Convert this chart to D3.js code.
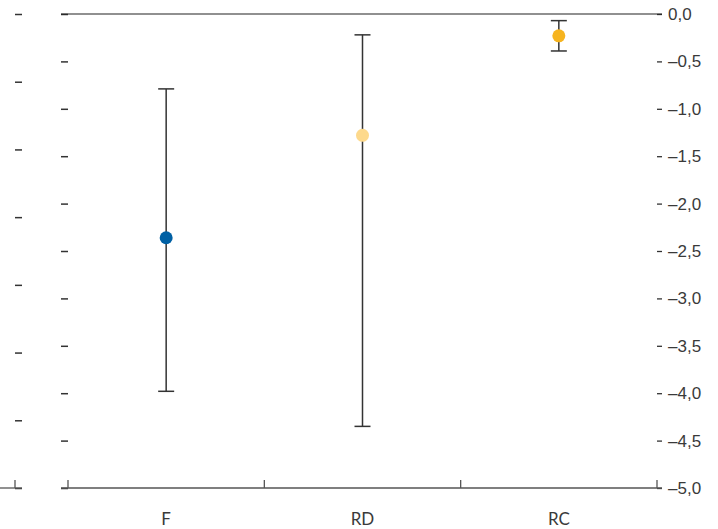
<!DOCTYPE html>
<html>
<head>
<meta charset="utf-8">
<script src="https://cdn.jsdelivr.net/npm/d3@7"></script>
<style>
  body { margin: 0; background: #fff; }
  svg { display: block; font-family: Lato, "Open Sans", sans-serif; }
</style>
</head>
<body>
<div id="figure"></div>
<script>
// values
var categories = ["F", "RD", "RC"];
var means = [-2.36, -1.28, -0.23];
var upper = [-0.79, -0.22, -0.07];
var lower = [-3.98, -4.35, -0.39];
var colors = ["#0060a4", "#fdd98c", "#f6b41f"];
var yTicks = [0, -0.5, -1, -1.5, -2, -2.5, -3, -3.5, -4, -4.5, -5];

var width = 718, height = 529;
var plotTop = 14, plotBottom = 488;

var svg = d3.select("#figure").append("svg")
    .attr("width", width)
    .attr("height", height);

var y = d3.scaleLinear().domain([-5, 0]).range([plotBottom, plotTop]);
var x = d3.scaleBand().domain(categories).range([68, 657]);

var fmt = function(d) {
  return (d < 0 ? "\u2013" : "") + d3.format(".1f")(Math.abs(d)).replace(".", ",");
};

// leftover axis of the neighbouring panel
var yPrev = d3.scaleLinear().domain([0, 7]).range([plotTop, plotBottom]);
svg.append("g")
    .attr("transform", "translate(15,0)")
    .call(d3.axisRight(yPrev).ticks(7).tickSize(7).tickFormat(""))
    .call(function(g) { g.select(".domain").remove(); })
    .selectAll("line").attr("stroke", "#333").attr("stroke-width", 1.5);
svg.append("line")
    .attr("x1", 0).attr("x2", 22).attr("y1", plotBottom).attr("y2", plotBottom)
    .attr("stroke", "#555").attr("stroke-width", 1.3);
svg.append("line")
    .attr("x1", 15).attr("x2", 15).attr("y1", plotBottom - 8).attr("y2", plotBottom)
    .attr("stroke", "#555").attr("stroke-width", 1.3);

// inner left ticks
svg.append("g")
    .attr("transform", "translate(68,0)")
    .call(d3.axisLeft(y).tickValues(yTicks).tickSize(7).tickFormat(""))
    .call(function(g) { g.select(".domain").remove(); })
    .selectAll("line").attr("stroke", "#333").attr("stroke-width", 1.5);

// right axis
var yAxis = svg.append("g")
    .attr("transform", "translate(657,0)")
    .call(d3.axisRight(y).tickValues(yTicks).tickSize(5).tickPadding(6).tickFormat(fmt));
yAxis.select(".domain").remove();
yAxis.selectAll("line").attr("stroke", "#333").attr("stroke-width", 1.3);
yAxis.selectAll("text")
    .attr("fill", "#3a3a3a")
    .style("font-size", "17px");

// zero line and base line
svg.append("line")
    .attr("x1", 61).attr("x2", 662).attr("y1", y(0)).attr("y2", y(0))
    .attr("stroke", "#222").attr("stroke-width", 1.2);
svg.append("line")
    .attr("x1", 61).attr("x2", 662).attr("y1", y(-5)).attr("y2", y(-5))
    .attr("stroke", "#555").attr("stroke-width", 1.3);

// x ticks at band edges
var edges = categories.map(function(c) { return x(c); }).concat([x.range()[1]]);
svg.append("g").selectAll("line")
  .data(edges)
  .join("line")
    .attr("x1", function(d) { return d; })
    .attr("x2", function(d) { return d; })
    .attr("y1", plotBottom - 8)
    .attr("y2", plotBottom)
    .attr("stroke", "#555")
    .attr("stroke-width", 1.3);

svg.append("g").selectAll("text")
  .data(categories)
  .join("text")
    .attr("x", function(d) { return x(d) + x.bandwidth() / 2; })
    .attr("y", 525)
    .attr("text-anchor", "middle")
    .attr("fill", "#3a3a3a")
    .style("font-size", "17px")
    .text(function(d) { return d; });

// error bars
var bars = svg.append("g").selectAll("g")
  .data(categories)
  .join("g")
    .attr("transform", function(d) { return "translate(" + (x(d) + x.bandwidth() / 2) + ",0)"; });

bars.append("line")
    .attr("y1", function(d, i) { return y(upper[i]); })
    .attr("y2", function(d, i) { return y(lower[i]); })
    .attr("stroke", "#333")
    .attr("stroke-width", 1.5);
bars.append("line")
    .attr("x1", -8).attr("x2", 8)
    .attr("y1", function(d, i) { return y(upper[i]); })
    .attr("y2", function(d, i) { return y(upper[i]); })
    .attr("stroke", "#333")
    .attr("stroke-width", 1.5);
bars.append("line")
    .attr("x1", -8).attr("x2", 8)
    .attr("y1", function(d, i) { return y(lower[i]); })
    .attr("y2", function(d, i) { return y(lower[i]); })
    .attr("stroke", "#333")
    .attr("stroke-width", 1.5);
bars.append("circle")
    .attr("cy", function(d, i) { return y(means[i]); })
    .attr("r", 6.5)
    .attr("fill", function(d, i) { return colors[i]; });
</script>
</body>
</html>
